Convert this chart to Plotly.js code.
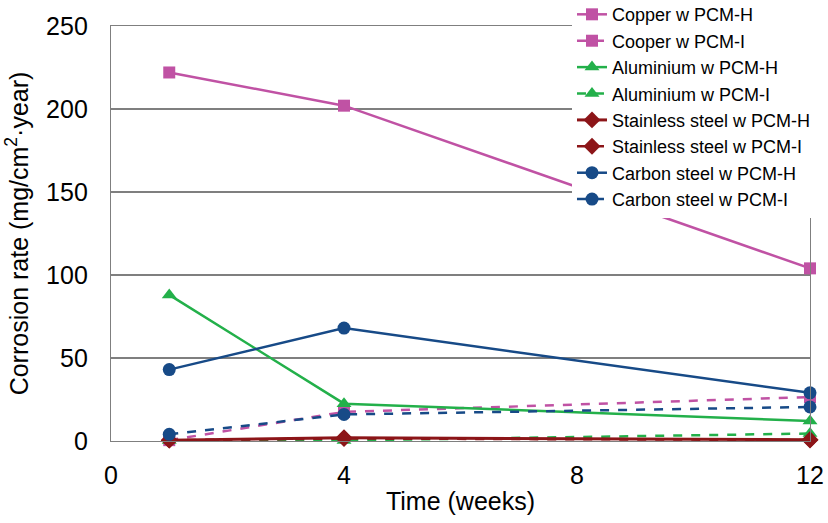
<!DOCTYPE html>
<html>
<head>
<meta charset="utf-8">
<script src="https://cdn.plot.ly/plotly-3.0.1.min.js"></script>
<style>
  html, body { margin: 0; padding: 0; background: #fff; }
  #chart { width: 828px; height: 523px; }
</style>
</head>
<body>
<div id="chart"></div>
<script>
// Sampling times (weeks)
const weeks = [1, 4, 12];

// Corrosion rates, mg/cm²·year
const copperH     = [222, 202, 104];
const copperI     = [0.5, 17.5, 26.5];
const aluminiumH  = [88, 22.5, 12];
const aluminiumI  = [0.3, 0.3, 4.5];
const stainlessH  = [0.5, 2, 0.8];
const stainlessI  = [0.5, 1.5, 0.6];
const carbonH     = [43, 68, 29];
const carbonI     = [4, 16, 20.5];

const seriesNames = [
  'Copper w PCM-H', 'Cooper w PCM-I',
  'Aluminium w PCM-H', 'Aluminium w PCM-I',
  'Stainless steel w PCM-H', 'Stainless steel w PCM-I',
  'Carbon steel w PCM-H', 'Carbon steel w PCM-I'
];

const xTicks = [0, 4, 8, 12];
const yTicks = [0, 50, 100, 150, 200, 250];

const COPPER = '#C052A4';
const ALUM = '#23B04A';
const STAIN = '#8C1518';
const CARBON = '#174A87';

function trace(name, y, color, symbol, dash, size, width) {
  return {
    x: weeks, y: y, name: name, type: 'scatter', mode: 'lines+markers',
    line: { color: color, width: width || 2.5, dash: dash },
    marker: { color: color, symbol: symbol, size: size },
    cliponaxis: false
  };
}

const data = [
  trace(seriesNames[0], copperH, COPPER, 'square', 'solid', 12),
  trace(seriesNames[1], copperI, COPPER, 'square', 'dash', 12),
  trace(seriesNames[2], aluminiumH, ALUM, 'triangle-up', 'solid', 13),
  trace(seriesNames[3], aluminiumI, ALUM, 'triangle-up', 'dash', 13),
  trace(seriesNames[4], stainlessH, STAIN, 'diamond', 'solid', 13, 3),
  trace(seriesNames[5], stainlessI, STAIN, 'diamond', 'dash', 13),
  trace(seriesNames[6], carbonH, CARBON, 'circle', 'solid', 13),
  trace(seriesNames[7], carbonI, CARBON, 'circle', 'dash', 13)
];

const FONT = 'Liberation Sans, Arial, sans-serif';
const axisFont = { family: FONT, size: 25, color: '#000' };

const layout = {
  width: 828, height: 523,
  margin: { l: 111, r: 18, t: 26, b: 82, autoexpand: false },
  paper_bgcolor: '#fff', plot_bgcolor: '#fff',
  showlegend: true,
  legend: {
    x: 0.6595, y: 1.072, xanchor: 'left', yanchor: 'top',
    bgcolor: '#fff', borderwidth: 0,
    font: { family: FONT, size: 18, color: '#000' },
    tracegroupgap: 0
  },
  xaxis: {
    range: [0, 12], tickvals: xTicks, ticktext: xTicks.map(String),
    showgrid: false, zeroline: false,
    showline: true, linecolor: '#7f7f7f', linewidth: 1.2, mirror: true,
    ticks: '', ticklabelstandoff: 12,
    tickfont: axisFont,
    title: { text: 'Time (weeks)', font: axisFont, standoff: 4 },
    automargin: false
  },
  yaxis: {
    range: [0, 250], tickvals: yTicks, ticktext: yTicks.map(String),
    showgrid: true, gridcolor: '#7f7f7f', gridwidth: 1.2,
    zeroline: false,
    showline: true, linecolor: '#7f7f7f', linewidth: 1.2, mirror: true,
    ticks: '', ticklabelstandoff: 17,
    tickfont: axisFont,
    title: { text: 'Corrosion rate (mg/cm<sup>2</sup>·year)', font: axisFont, standoff: 10 },
    automargin: false
  }
};

Plotly.newPlot('chart', data, layout, { staticPlot: true, displayModeBar: false });
</script>
</body>
</html>
